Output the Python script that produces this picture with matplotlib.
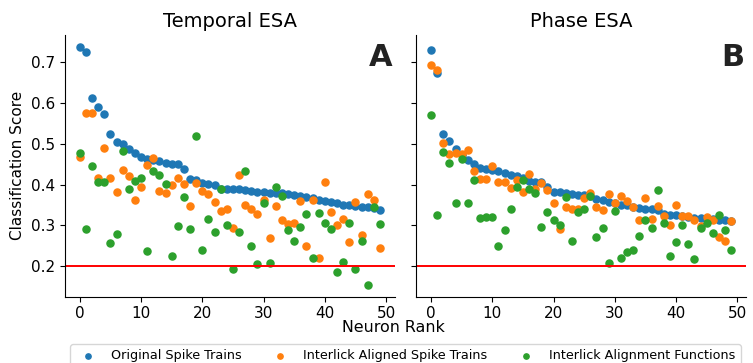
import numpy as np
import matplotlib.pyplot as plt

# Classification scores per neuron rank (0..49)
temporal_original = [0.737, 0.725, 0.611, 0.589, 0.572, 0.523, 0.504, 0.498, 0.488, 0.476,
                     0.467, 0.463, 0.461, 0.457, 0.453, 0.451, 0.450, 0.437, 0.413, 0.410,
                     0.403, 0.401, 0.400, 0.390, 0.389, 0.389, 0.388, 0.386, 0.385, 0.381,
                     0.381, 0.380, 0.379, 0.379, 0.376, 0.374, 0.373, 0.369, 0.366, 0.363,
                     0.360, 0.358, 0.356, 0.351, 0.349, 0.347, 0.346, 0.345, 0.343, 0.337]
temporal_aligned = [0.467, 0.574, 0.576, 0.417, 0.490, 0.416, 0.382, 0.435, 0.420, 0.362,
                    0.394, 0.448, 0.466, 0.385, 0.379, 0.398, 0.417, 0.402, 0.347, 0.403,
                    0.383, 0.376, 0.357, 0.335, 0.341, 0.293, 0.424, 0.349, 0.339, 0.328,
                    0.363, 0.269, 0.348, 0.313, 0.304, 0.306, 0.359, 0.250, 0.363, 0.220,
                    0.407, 0.332, 0.301, 0.316, 0.259, 0.358, 0.276, 0.378, 0.362, 0.245]
temporal_functions = [0.478, 0.292, 0.446, 0.405, 0.406, 0.258, 0.278, 0.483, 0.389, 0.408,
                      0.415, 0.237, 0.434, 0.423, 0.402, 0.226, 0.298, 0.370, 0.291, 0.518,
                      0.241, 0.315, 0.285, 0.390, 0.300, 0.194, 0.283, 0.433, 0.249, 0.206,
                      0.354, 0.209, 0.394, 0.372, 0.289, 0.261, 0.295, 0.328, 0.220, 0.331,
                      0.307, 0.292, 0.186, 0.211, 0.306, 0.194, 0.263, 0.155, 0.345, 0.304]

phase_original = [0.728, 0.672, 0.524, 0.506, 0.487, 0.471, 0.459, 0.450, 0.441, 0.437,
                  0.435, 0.432, 0.429, 0.423, 0.422, 0.415, 0.409, 0.407, 0.406, 0.394,
                  0.382, 0.381, 0.379, 0.376, 0.375, 0.374, 0.371, 0.365, 0.361, 0.358,
                  0.355, 0.351, 0.350, 0.346, 0.343, 0.341, 0.340, 0.337, 0.327, 0.325,
                  0.325, 0.323, 0.320, 0.319, 0.318, 0.316, 0.315, 0.313, 0.312, 0.311]
phase_aligned = [0.693, 0.679, 0.502, 0.475, 0.476, 0.474, 0.484, 0.432, 0.413, 0.413,
                 0.446, 0.405, 0.405, 0.392, 0.410, 0.382, 0.425, 0.389, 0.403, 0.386,
                 0.355, 0.290, 0.346, 0.340, 0.340, 0.366, 0.380, 0.345, 0.337, 0.378,
                 0.355, 0.373, 0.360, 0.345, 0.312, 0.367, 0.315, 0.348, 0.323, 0.301,
                 0.351, 0.323, 0.322, 0.312, 0.298, 0.320, 0.314, 0.272, 0.263, 0.311]
phase_functions = [0.571, 0.326, 0.479, 0.452, 0.354, 0.463, 0.354, 0.410, 0.318, 0.321,
                   0.321, 0.249, 0.289, 0.341, 0.394, 0.411, 0.389, 0.380, 0.297, 0.332,
                   0.313, 0.302, 0.369, 0.262, 0.332, 0.341, 0.373, 0.272, 0.293, 0.207,
                   0.334, 0.220, 0.235, 0.241, 0.274, 0.314, 0.294, 0.387, 0.305, 0.224,
                   0.259, 0.302, 0.254, 0.218, 0.294, 0.307, 0.281, 0.326, 0.289, 0.241]

chance_level = 0.2
series_labels = ['Original Spike Trains', 'Interlick Aligned Spike Trains',
                 'Interlick Alignment Functions']
panels = [('Temporal ESA', 'A', [temporal_original, temporal_aligned, temporal_functions]),
          ('Phase ESA', 'B', [phase_original, phase_aligned, phase_functions])]

fig, axes = plt.subplots(1, 2, figsize=(7.53, 3.63), dpi=100, sharey=True)
fig.subplots_adjust(left=0.086, right=0.991, bottom=0.183, top=0.904, wspace=0.064)

for ax, (title, letter, series) in zip(axes, panels):
    for values, label in zip(series, series_labels):
        ax.scatter(np.arange(len(values)), values, s=26, label=label)
    ax.axhline(chance_level, color='red', linewidth=1.4)
    ax.set_title(title, fontsize=14)
    ax.text(0.958, 0.912, letter, transform=ax.transAxes, fontsize=22,
            fontweight='bold', ha='center', va='center', color='#222222')
    ax.spines['top'].set_visible(False)
    ax.spines['right'].set_visible(False)
    ax.set_xticks(np.arange(0, 51, 10))
    ax.tick_params(labelsize=11)

axes[0].set_ylabel('Classification Score', fontsize=11)
fig.text(0.523, 0.098, 'Neuron Rank', ha='center', va='center', fontsize=11.4)

handles, labels = axes[0].get_legend_handles_labels()
fig.legend(handles, labels, loc='upper left', ncol=3, mode='expand',
           bbox_to_anchor=(0.093, 0.0, 0.891, 0.0523), borderaxespad=0,
           fontsize=9.2, scatterpoints=1, markerscale=0.75)

fig.savefig('out.png', dpi=100)
